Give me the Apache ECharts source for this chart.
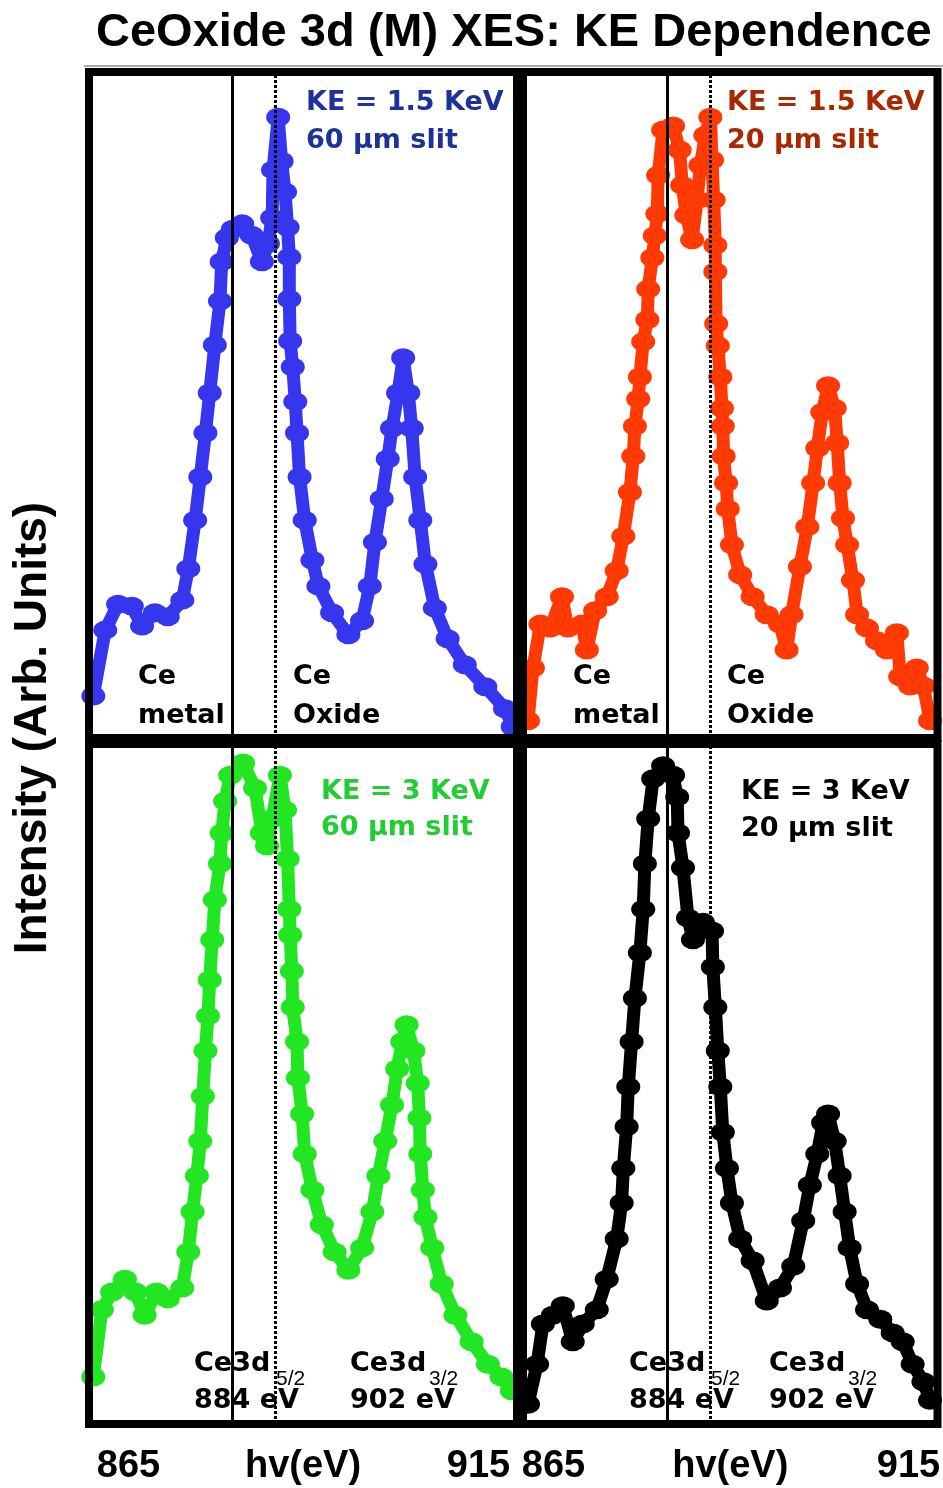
<!DOCTYPE html>
<html>
<head>
<meta charset="utf-8">
<title>CeOxide 3d (M) XES: KE Dependence</title>
<script src="https://cdn.jsdelivr.net/npm/echarts@6/dist/echarts.min.js"></script>
<style>
  html, body { margin: 0; padding: 0; background: #fff; }
  #main { width: 943px; height: 1488px; }
</style>
</head>
<body>
<div id="main"></div>
<script>
// photon energy hv (eV) and intensity (arb. units, 0-100)
var energyBlue = [865.5, 866.9, 868.4, 870.0, 871.2, 872.7, 874.2, 875.9, 876.6, 877.4, 878.0, 878.6, 879.1, 879.7, 880.3, 880.5, 881.1, 881.8, 882.9, 884.0, 885.2, 885.9, 886.4, 886.5, 887.1, 887.5, 887.9, 888.2, 888.4, 888.4, 888.5, 888.8, 889.1, 889.3, 889.6, 890.2, 891.1, 891.8, 893.4, 895.3, 896.9, 897.8, 898.4, 899.2, 899.9, 900.4, 901.1, 901.7, 902.3, 902.7, 903.1, 903.7, 904.3, 905.4, 906.9, 908.9, 911.3, 913.6, 914.5]
var countsBlue = [6.3, 16.2, 20.1, 19.8, 16.8, 18.8, 18.2, 20.7, 25.4, 32.7, 39.2, 45.8, 51.8, 59.0, 65.6, 71.5, 75.1, 76.4, 77.2, 75.5, 71.5, 74.2, 78.1, 85.3, 93.2, 86.6, 82.0, 76.7, 72.2, 65.9, 59.6, 55.7, 50.5, 45.8, 39.2, 32.7, 26.7, 22.8, 18.8, 15.5, 17.6, 22.8, 29.4, 35.9, 41.9, 46.5, 51.8, 57.1, 51.8, 46.5, 39.2, 32.7, 26.1, 19.5, 14.9, 11.0, 7.7, 4.4, 1.7]

var energyRed = [865.6, 866.2, 867.1, 868.3, 869.7, 870.4, 872.1, 872.7, 873.7, 875.1, 876.3, 877.1, 877.9, 878.3, 878.5, 878.9, 879.1, 879.5, 880.0, 880.1, 880.6, 880.9, 881.2, 881.3, 881.9, 883.1, 883.9, 884.2, 884.7, 885.4, 886.0, 886.4, 887.0, 887.6, 887.8, 888.0, 888.2, 888.2, 888.3, 888.5, 888.8, 889.0, 889.1, 889.2, 889.5, 889.7, 890.2, 891.2, 892.7, 894.4, 896.0, 896.8, 897.4, 898.4, 899.3, 900.0, 900.5, 901.1, 901.8, 902.6, 902.9, 903.2, 903.6, 904.1, 904.8, 905.3, 906.5, 907.7, 908.9, 910.1, 910.5, 911.7, 912.5, 913.3, 914.1]
var countsRed = [2.6, 10.5, 17.1, 16.5, 21.2, 16.5, 17.1, 13.2, 19.1, 21.2, 25.1, 30.3, 36.9, 42.3, 46.8, 50.9, 54.2, 59.5, 62.8, 67.4, 72.1, 75.4, 78.7, 84.5, 91.3, 91.9, 88.3, 83.0, 78.5, 74.8, 80.8, 86.0, 90.5, 93.2, 86.8, 80.8, 74.0, 70.0, 62.2, 58.9, 54.2, 49.5, 46.8, 42.3, 38.3, 34.4, 29.0, 24.5, 21.2, 18.5, 17.1, 13.2, 18.5, 25.7, 31.7, 38.3, 43.5, 48.9, 52.9, 49.5, 44.3, 38.3, 33.0, 29.0, 23.7, 18.5, 16.5, 14.6, 13.2, 15.8, 9.2, 7.8, 10.5, 7.8, 2.6]

var energyGreen = [865.5, 866.5, 867.7, 869.2, 870.4, 871.5, 872.9, 874.2, 875.9, 876.6, 877.1, 877.6, 878.0, 878.3, 878.6, 878.9, 879.1, 879.4, 879.7, 880.3, 880.5, 880.9, 881.5, 883.0, 884.4, 885.2, 885.8, 886.4, 887.3, 887.9, 888.2, 888.4, 888.5, 888.7, 888.8, 889.3, 889.4, 889.9, 890.2, 891.1, 892.2, 893.7, 895.3, 896.9, 898.1, 898.8, 899.6, 900.4, 901.0, 901.6, 902.1, 902.9, 903.4, 903.6, 903.7, 904.0, 904.3, 905.1, 906.2, 907.8, 909.7, 911.6, 913.2, 914.4]
var countsGreen = [6.9, 16.8, 19.4, 21.3, 19.4, 16.0, 19.4, 18.4, 20.0, 25.3, 31.2, 36.5, 41.6, 48.2, 54.9, 60.0, 65.3, 71.2, 77.1, 82.4, 86.9, 91.6, 95.4, 97.2, 93.5, 86.9, 85.0, 89.0, 95.4, 90.3, 83.1, 75.7, 71.9, 66.6, 61.3, 56.2, 50.9, 45.6, 39.7, 34.4, 29.3, 25.3, 22.6, 25.9, 31.2, 36.5, 41.6, 46.9, 52.2, 56.2, 58.7, 54.9, 50.1, 45.0, 39.7, 34.4, 30.4, 25.9, 20.6, 16.0, 12.1, 8.8, 6.9, 4.9]

var energyBlack = [865.6, 866.7, 867.4, 868.6, 869.8, 871.0, 872.2, 873.9, 875.1, 876.3, 876.9, 877.1, 877.5, 877.7, 878.1, 878.5, 879.1, 879.5, 879.7, 880.1, 880.7, 881.9, 883.1, 883.6, 883.7, 884.3, 884.9, 885.5, 886.7, 887.8, 887.9, 888.2, 888.5, 888.8, 889.1, 889.6, 890.2, 891.2, 892.7, 894.4, 896.0, 897.6, 898.8, 899.6, 900.5, 901.2, 901.8, 902.6, 903.2, 903.8, 904.4, 905.3, 906.5, 908.1, 909.6, 910.8, 912.0, 913.3, 914.1]
var countsBlack = [2.9, 8.8, 14.7, 16.0, 17.4, 12.1, 14.7, 16.8, 21.3, 27.2, 32.5, 37.6, 43.7, 49.6, 56.2, 62.6, 69.3, 75.7, 82.4, 89.0, 94.9, 96.8, 95.4, 92.2, 86.9, 81.8, 74.4, 71.2, 73.8, 72.5, 67.2, 61.3, 54.9, 49.6, 42.9, 37.6, 32.5, 27.2, 24.0, 18.1, 20.0, 23.2, 29.9, 35.1, 39.7, 44.3, 45.6, 41.6, 36.5, 31.2, 25.9, 20.6, 16.8, 15.4, 13.4, 12.1, 8.8, 6.2, 3.5]

// reference lines (solid = metal, dotted = oxide) per column
var metalLineLeft = 881.7
var oxideLineLeft = 886.8
var metalLineRight = 882.4
var oxideLineRight = 887.6

var xTicks = [865, 915]

function pairs(xs, ys) {
  var arr = []
  for (var i = 0; i < xs.length; i++) {
    arr.push([xs[i], ys[i]])
  }
  return arr
}

var boldSans = '"Liberation Sans", Arial, sans-serif'
var wideSans = '"DejaVu Sans", Verdana, sans-serif'

function gridBox(left, top, width, height) {
  return {
    left: left, top: top, width: width, height: height,
    containLabel: false, outerBoundsMode: 'none',
    show: true, borderColor: '#000', borderWidth: 8, z: 10,
    backgroundColor: 'transparent'
  }
}

function xAxisFor(idx, showLabels, padL, padR) {
  var axis = {
    gridIndex: idx, type: 'value', min: xTicks[0], max: xTicks[1], interval: xTicks[1] - xTicks[0],
    axisLine: { show: false }, axisTick: { show: false }, splitLine: { show: false },
    axisLabel: { show: false }
  }
  if (showLabels) {
    var txt = { fontFamily: boldSans, fontWeight: 'bold', fontSize: 38, color: '#000', lineHeight: 38 }
    axis.name = 'hv(eV)'
    axis.nameLocation = 'middle'
    axis.nameGap = 24
    axis.nameMoveOverlap = false
    axis.nameTextStyle = Object.assign({ verticalAlign: 'top' }, txt)
    axis.axisLabel = {
      show: true, margin: 24, hideOverlap: false,
      fontFamily: boldSans, fontWeight: 'bold', fontSize: 38, color: '#000', lineHeight: 38,
      formatter: function (v) {
        return v === xTicks[0] ? '{l|' + v + '}' : '{r|' + v + '}'
      },
      rich: {
        l: Object.assign({ padding: [0, 0, 0, padL] }, txt),
        r: Object.assign({ padding: [0, padR, 0, 0] }, txt)
      }
    }
  }
  return axis
}

function yAxisFor(idx) {
  return { gridIndex: idx, type: 'value', min: 0, max: 100, show: false }
}

function spectrum(idx, xs, ys, color, metalX, oxideX) {
  return {
    type: 'line', xAxisIndex: idx, yAxisIndex: idx,
    data: pairs(xs, ys),
    symbol: 'circle', symbolSize: [24, 19], showAllSymbol: true,
    lineStyle: { color: color, width: 13 },
    itemStyle: { color: color },
    emphasis: { disabled: true },
    silent: true,
    markLine: {
      silent: true, symbol: 'none', label: { show: false }, animation: false,
      data: [
        { xAxis: metalX, lineStyle: { type: 'solid', width: 3, color: '#000' } },
        { xAxis: oxideX, lineStyle: { type: [3, 2], width: 3, color: '#000' } }
      ]
    }
  }
}

function label(text, x, y, color, size, font, weight) {
  return {
    type: 'text', x: x, y: y, z: 30,
    style: {
      text: text, fill: color, fontSize: size || 27,
      fontFamily: font || wideSans, fontWeight: weight || 'bold',
      verticalAlign: 'middle'
    }
  }
}

var graphics = [
  { type: 'line', shape: { x1: 84, y1: 66, x2: 943, y2: 66 }, style: { stroke: '#aaa', lineWidth: 2 } },
  {
    type: 'text', x: 33, y: 728, rotation: Math.PI / 2,
    style: {
      text: 'Intensity (Arb. Units)', fill: '#000', fontSize: 46,
      fontFamily: boldSans, fontWeight: 'bold', align: 'center', verticalAlign: 'middle'
    }
  },
  // top left
  label('KE = 1.5 KeV', 306, 103, '#1c3296'),
  label('60 μm slit', 306, 141, '#1c3296'),
  label('Ce', 138, 677, '#000'),
  label('metal', 138, 716, '#000'),
  label('Ce', 293, 677, '#000'),
  label('Oxide', 293, 716, '#000'),
  // top right
  label('KE = 1.5 KeV', 727, 103, '#a82800'),
  label('20 μm slit', 727, 141, '#a82800'),
  label('Ce', 573, 677, '#000'),
  label('metal', 573, 716, '#000'),
  label('Ce', 727, 677, '#000'),
  label('Oxide', 727, 716, '#000'),
  // bottom left
  label('KE = 3 KeV', 321, 792, '#22cc33'),
  label('60 μm slit', 321, 828, '#22cc33'),
  label('Ce3d', 194, 1364, '#000'),
  label('5/2', 276, 1379, '#000', 21, boldSans, 'normal'),
  label('884 eV', 194, 1401, '#000'),
  label('Ce3d', 350, 1364, '#000'),
  label('3/2', 429, 1379, '#000', 21, boldSans, 'normal'),
  label('902 eV', 350, 1401, '#000'),
  // bottom right
  label('KE = 3 KeV', 741, 792, '#000'),
  label('20 μm slit', 741, 829, '#000'),
  label('Ce3d', 629, 1364, '#000'),
  label('5/2', 711, 1379, '#000', 21, boldSans, 'normal'),
  label('884 eV', 629, 1401, '#000'),
  label('Ce3d', 769, 1364, '#000'),
  label('3/2', 848, 1379, '#000', 21, boldSans, 'normal'),
  label('902 eV', 769, 1401, '#000')
]

var myChart = echarts.init(document.getElementById('main'))
var option = {
  backgroundColor: '#fff',
  animation: false,
  title: {
    text: 'CeOxide 3d (M) XES: KE Dependence',
    left: 91, top: 5,
    textStyle: { fontFamily: boldSans, fontWeight: 'bold', fontSize: 47, color: '#000' }
  },
  grid: [
    gridBox(89, 72, 428, 666),
    gridBox(523, 72, 414.5, 666),
    gridBox(89, 744, 428, 680),
    gridBox(523, 744, 414.5, 680)
  ],
  xAxis: [
    xAxisFor(0, false),
    xAxisFor(1, false),
    xAxisFor(2, true, 79, 77),
    xAxisFor(3, true, 61, 58)
  ],
  yAxis: [yAxisFor(0), yAxisFor(1), yAxisFor(2), yAxisFor(3)],
  series: [
    spectrum(0, energyBlue, countsBlue, '#3636ee', metalLineLeft, oxideLineLeft),
    spectrum(1, energyRed, countsRed, '#ff3a05', metalLineRight, oxideLineRight),
    spectrum(2, energyGreen, countsGreen, '#22e622', metalLineLeft, oxideLineLeft),
    spectrum(3, energyBlack, countsBlack, '#000', metalLineRight, oxideLineRight)
  ],
  graphic: graphics
}
myChart.setOption(option)
</script>
</body>
</html>
